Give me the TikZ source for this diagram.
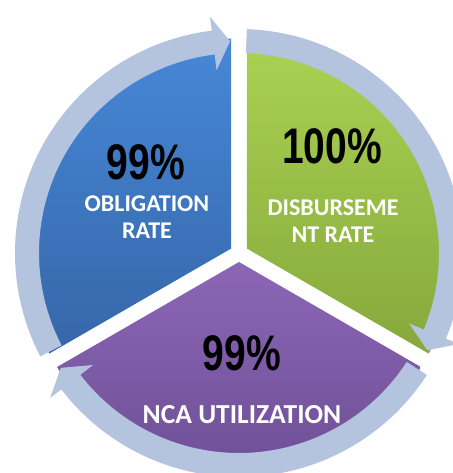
\documentclass[tikz,border=0pt]{standalone}
\usepackage{fontspec}
\newfontfamily\pctfont[FakeStretch=0.78]{Liberation Sans}
\newfontfamily\capfont{Carlito}
\definecolor{ringblue}{RGB}{180,196,222}
\definecolor{blueTop}{RGB}{70,136,216}
\definecolor{blueBot}{RGB}{54,102,168}
\definecolor{greenTop}{RGB}{170,210,82}
\definecolor{greenBot}{RGB}{134,168,60}
\definecolor{purpTop}{RGB}{140,102,182}
\definecolor{purpBot}{RGB}{106,76,146}

\begin{document}
\begin{tikzpicture}[x=1pt,y=1pt,
  pct/.style={font=\pctfont\bfseries\fontsize{50}{50}\selectfont},
  lbl/.style={text=white, align=center, font=\capfont\bfseries\fontsize{24}{27}\selectfont}]
\useasboundingbox (-239,-220) rectangle (213,253);
% the three wedges
\shade[top color=blueTop, bottom color=blueBot] (150:9pt) -- ++(90:210pt) arc[start angle=90, end angle=210, radius=210pt] -- cycle;
\shade[top color=greenTop, bottom color=greenBot] (30:9pt) -- ++(-30:210pt) arc[start angle=-30, end angle=90, radius=210pt] -- cycle;
\shade[top color=purpTop, bottom color=purpBot] (270:9pt) -- ++(210:210pt) arc[start angle=210, end angle=330, radius=210pt] -- cycle;
% arrows round the wedges
\fill[ringblue] (207.5:224pt) arc[start angle=207.5, end angle=97, radius=224pt] -- (97:238pt) -- (92.4:212pt) -- (97:184pt) -- (97:200pt) arc[start angle=97, end angle=207.5, radius=200pt] -- cycle;
\fill[ringblue] (88:224pt) arc[start angle=88, end angle=-22.5, radius=224pt] -- (-22.5:238pt) -- (-27.3:212pt) -- (-22.5:184pt) -- (-22.5:200pt) arc[start angle=-22.5, end angle=88, radius=200pt] -- cycle;
\fill[ringblue] (-33:224pt) arc[start angle=-33, end angle=-142.5, radius=224pt] -- (-142.5:238pt) -- (-147.2:212pt) -- (-142.5:184pt) -- (-142.5:200pt) arc[start angle=-142.5, end angle=-33, radius=200pt] -- cycle;
% texts
\node[pct] (oblpct) at (-93,91) {99\%};
\node[lbl] (obltxt) at (-92,36) {OBLIGATION\\RATE};
\node[pct] (disbpct) at (93,107) {100\%};
\node[lbl] (disbtxt) at (94,32) {DISBURSEME\\NT RATE};
\node[pct] (ncapct) at (3,-100) {99\%};
\node[lbl, font=\capfont\bfseries\fontsize{27.5}{30}\selectfont] (ncatxt) at (3,-162) {NCA UTILIZATION};
\end{tikzpicture}
\end{document}
